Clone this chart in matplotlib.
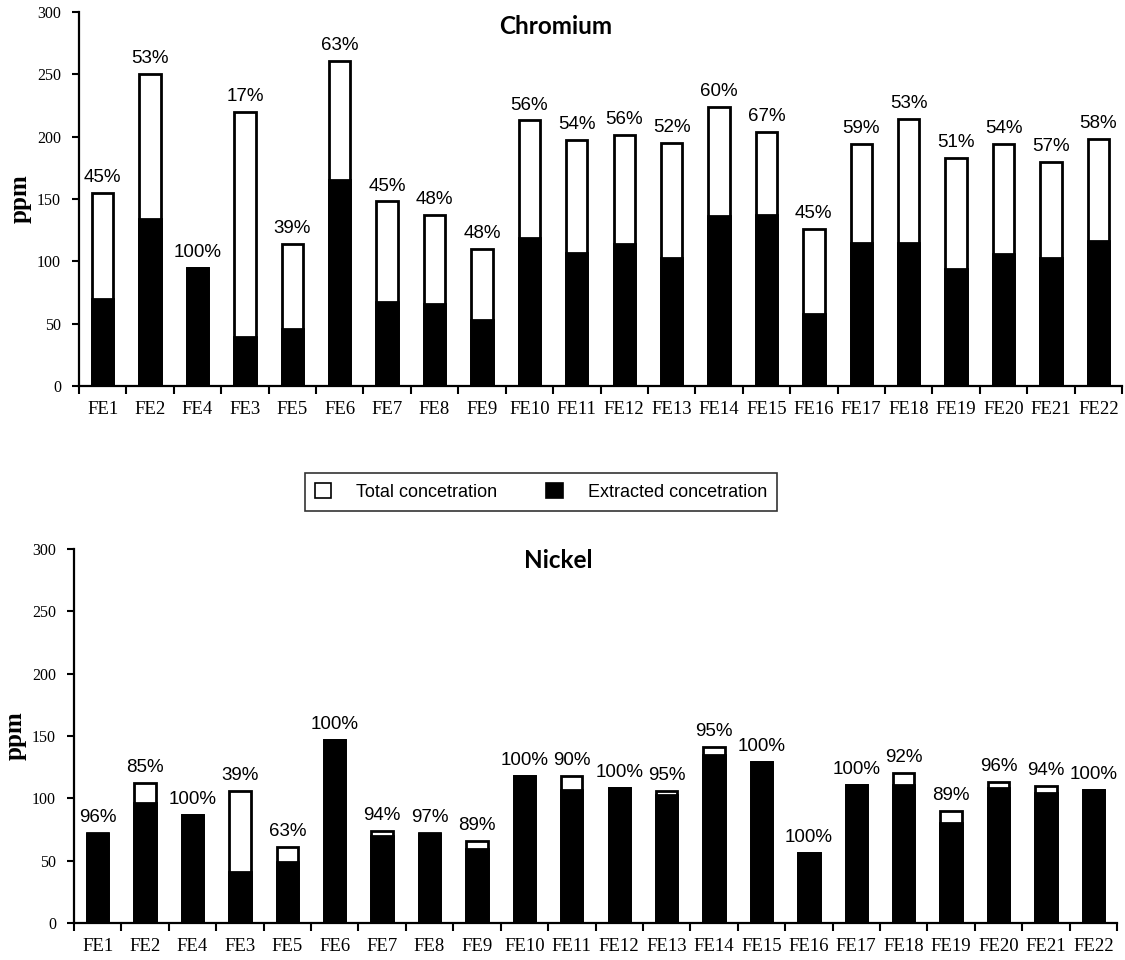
import matplotlib
matplotlib.use("Agg")
import matplotlib.pyplot as plt
from matplotlib.patches import Patch
import numpy as np

# Sample codes (plotting order)
samples = ["FE1", "FE2", "FE4", "FE3", "FE5", "FE6", "FE7", "FE8", "FE9", "FE10",
           "FE11", "FE12", "FE13", "FE14", "FE15", "FE16", "FE17", "FE18", "FE19",
           "FE20", "FE21", "FE22"]

# Chromium (ppm)
cr_total = [155, 250, 95, 220, 114, 261, 148, 137, 110, 213, 197, 201, 195, 224,
            204, 126, 194, 214, 183, 194, 180, 198]
cr_extracted = [70, 134, 95, 39, 46, 165, 67, 66, 53, 119, 107, 114, 103, 136,
                137, 58, 115, 115, 94, 106, 103, 116]
cr_pct = [45, 53, 100, 17, 39, 63, 45, 48, 48, 56, 54, 56, 52, 60, 67, 45, 59,
          53, 51, 54, 57, 58]

# Nickel (ppm)
ni_total = [72, 112, 87, 106, 61, 147, 74, 72, 66, 118, 118, 108, 106, 141, 129,
            56, 111, 120, 90, 113, 110, 107]
ni_extracted = [71, 96, 87, 41, 49, 147, 70, 71, 59, 118, 107, 108, 103, 135, 129,
                56, 111, 111, 80, 108, 104, 107]
ni_pct = [96, 85, 100, 39, 63, 100, 94, 97, 89, 100, 90, 100, 95, 95, 100, 100,
          100, 92, 89, 96, 94, 100]

yticks = [0, 50, 100, 150, 200, 250, 300]

SERIF = "Liberation Serif"
SANS = "Liberation Sans"

W, H = 1125, 960
fig = plt.figure(figsize=(W / 100, H / 100), dpi=100)


def panel(rect, total, extracted, pct, title, title_xy):
    ax = fig.add_axes(rect)
    x = np.arange(len(samples))
    bw = 0.45
    ax.bar(x, total, width=bw, color="white", edgecolor="black", linewidth=2.0,
           zorder=2)
    ax.bar(x, extracted, width=bw, color="black", edgecolor="black",
           linewidth=2.0, zorder=3)
    for xi, t, p in zip(x, total, pct):
        ax.annotate(f"{p}%", (xi, t), xytext=(0, 5), textcoords="offset points",
                    ha="center", va="bottom", fontsize=13.5, family=SANS)
    ax.set_xlim(-0.5, len(samples) - 0.5)
    ax.set_ylim(0, 300)
    ax.set_yticks(yticks)
    ax.set_yticklabels([str(v) for v in yticks], family=SERIF, fontsize=11.5)
    ax.set_xticks(x)
    ax.set_xticklabels(samples, family=SERIF, fontsize=13.5)
    ax.set_xticks(np.arange(-0.5, len(samples)), minor=True)
    ax.tick_params(axis="x", which="major", length=0, pad=11)
    ax.tick_params(axis="x", which="minor", length=6, width=1.5, direction="out")
    ax.tick_params(axis="y", length=5, width=1.5, direction="out", pad=8)
    for s in ("top", "right"):
        ax.spines[s].set_visible(False)
    for s in ("left", "bottom"):
        ax.spines[s].set_linewidth(1.6)
    ax.set_ylabel("ppm", family=SERIF, fontweight="bold", fontsize=18, labelpad=4)
    fig.text(title_xy[0], title_xy[1], title, ha="center", va="center",
             family="Lato", fontweight="bold", fontsize=17.5)
    return ax


panel([79 / W, 1 - 386 / H, (1122 - 79) / W, (386 - 12) / H],
      cr_total, cr_extracted, cr_pct, "Chromium", (556 / W, 1 - 26 / H))
panel([74 / W, 1 - 923 / H, (1117 - 74) / W, (923 - 549) / H],
      ni_total, ni_extracted, ni_pct, "Nickel", (558 / W, 1 - 561 / H))

handles = [Patch(facecolor="white", edgecolor="black", linewidth=1.2),
           Patch(facecolor="black", edgecolor="black", linewidth=1.2)]
leg = fig.legend(handles, ["Total concetration", "Extracted concetration"],
                 loc="center", bbox_to_anchor=(541 / W, 1 - 492 / H), ncol=2,
                 prop={"family": SANS, "size": 13}, frameon=True, fancybox=False,
                 edgecolor="black", handlelength=0.9, handleheight=0.9,
                 handletextpad=1.4, columnspacing=2.7, borderpad=0.55)
leg.get_frame().set_linewidth(1.2)

fig.savefig("out.png", dpi=100)
